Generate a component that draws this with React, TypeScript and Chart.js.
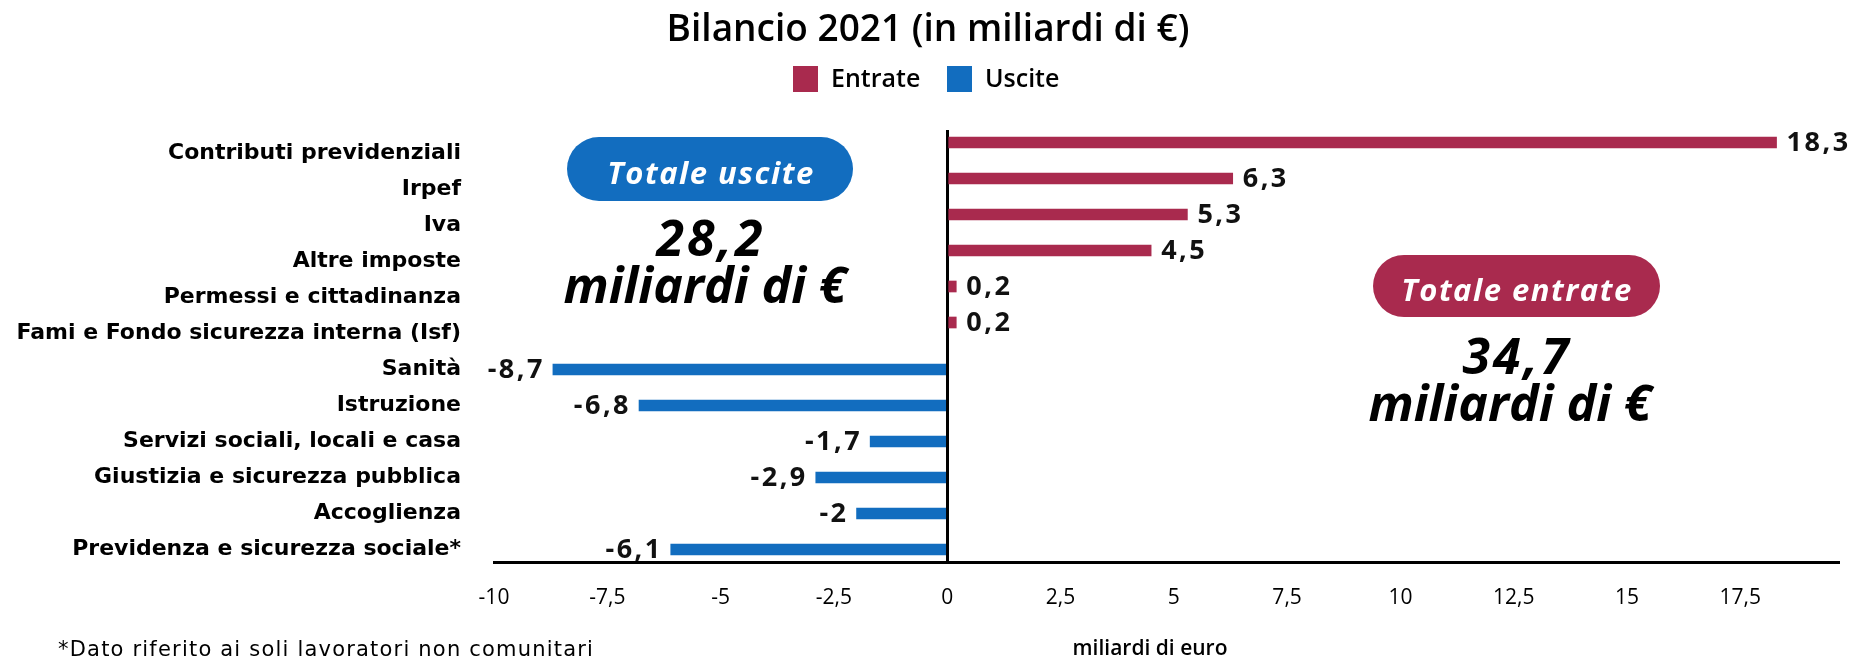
import React, { useEffect, useRef } from 'react';
import { Chart, registerables } from 'chart.js';

Chart.register(...registerables);

// ---------- data ----------
const categories = [
  'Contributi previdenziali',
  'Irpef',
  'Iva',
  'Altre imposte',
  'Permessi e cittadinanza',
  'Fami e Fondo sicurezza interna (Isf)',
  'Sanità',
  'Istruzione',
  'Servizi sociali, locali e casa',
  'Giustizia e sicurezza pubblica',
  'Accoglienza',
  'Previdenza e sicurezza sociale*',
];
const entrateValues = [18.3, 6.3, 5.3, 4.5, 0.2, 0.2, null, null, null, null, null, null];
const usciteValues = [null, null, null, null, null, null, -8.7, -6.8, -1.7, -2.9, -2, -6.1];
const xMin = -10;
const xMax = 19.7;
const xStep = 2.5;
const seriesNames = ['Entrate', 'Uscite'];
const totalLabels = ['Totale entrate', 'Totale uscite'];
const totalValues = ['34,7', '28,2'];
const titleText = 'Bilancio 2021 (in miliardi di €)';
const xAxisTitle = 'miliardi di euro';
const footnote = '*Dato riferito ai soli lavoratori non comunitari';

const RED = '#A92A4E';
const BLUE = '#126DBF';
const FONT = '"Open Sans", "Noto Sans", sans-serif';
const WIDE = '"DejaVu Sans", sans-serif';

const fmt = (v: number) => String(v).replace('.', ',');

function pill(ctx: CanvasRenderingContext2D, x: number, y: number, w: number, h: number, color: string) {
  const r = h / 2;
  ctx.beginPath();
  ctx.moveTo(x + r, y);
  ctx.lineTo(x + w - r, y);
  ctx.arc(x + w - r, y + r, r, -Math.PI / 2, Math.PI / 2);
  ctx.lineTo(x + r, y + h);
  ctx.arc(x + r, y + r, r, Math.PI / 2, (3 * Math.PI) / 2);
  ctx.closePath();
  ctx.fillStyle = color;
  ctx.fill();
}

const labelsPlugin = {
  id: 'barLabels',
  afterDatasetsDraw(chart: any) {
    const ctx = chart.ctx as CanvasRenderingContext2D;
    ctx.save();
    ctx.font = `bold 27px ${FONT}`;
    ctx.letterSpacing = '2.5px';
    ctx.fillStyle = '#111';
    ctx.textBaseline = 'middle';
    chart.data.datasets.forEach((ds: any, di: number) => {
      const meta = chart.getDatasetMeta(di);
      meta.data.forEach((el: any, i: number) => {
        const v = ds.data[i];
        if (v === null || v === undefined) return;
        if (v >= 0) {
          ctx.textAlign = 'left';
          ctx.fillText(fmt(v), el.x + 10, el.y + 1);
        } else {
          ctx.textAlign = 'right';
          ctx.fillText(fmt(v), el.x - 8, el.y + 1);
        }
      });
    });
    ctx.restore();
  },
};

const decorPlugin = {
  id: 'decor',
  afterDraw(chart: any) {
    const ctx = chart.ctx as CanvasRenderingContext2D;
    ctx.save();
    ctx.letterSpacing = '0px';
    // title
    ctx.fillStyle = '#000';
    ctx.textAlign = 'center';
    ctx.textBaseline = 'middle';
    ctx.font = `600 37px ${FONT}`;
    ctx.fillText(titleText, 928, 30);

    // legend
    const legendItems = [
      { box: 793, text: 831, color: RED, label: seriesNames[0] },
      { box: 947, text: 985, color: BLUE, label: seriesNames[1] },
    ];
    ctx.font = `600 25px ${FONT}`;
    ctx.textAlign = 'left';
    legendItems.forEach((it) => {
      ctx.fillStyle = it.color;
      ctx.fillRect(it.box, 66, 25, 26);
      ctx.fillStyle = '#000';
      ctx.fillText(it.label, it.text, 80);
    });

    // totals
    pill(ctx, 567, 137, 286, 64, BLUE);
    pill(ctx, 1373, 255, 287, 62, RED);
    ctx.textAlign = 'center';
    ctx.fillStyle = '#fff';
    ctx.font = `italic bold 31px ${FONT}`;
    ctx.letterSpacing = '1.5px';
    ctx.fillText(totalLabels[1], 711, 175);
    ctx.fillText(totalLabels[0], 1517, 292);
    ctx.fillStyle = '#000';
    ctx.font = `italic bold 50px ${FONT}`;
    ctx.letterSpacing = '3px';
    ctx.fillText(totalValues[1], 711, 242);
    ctx.fillText(totalValues[0], 1517, 360);
    ctx.letterSpacing = '0px';
    ctx.fillText('miliardi di €', 705, 289);
    ctx.fillText('miliardi di €', 1510, 407);

    // axis title & footnote
    ctx.font = `600 21px ${FONT}`;
    ctx.textBaseline = 'alphabetic';
    ctx.textAlign = 'center';
    ctx.fillText(xAxisTitle, 1150, 655);
    ctx.textAlign = 'left';
    ctx.font = `21px ${WIDE}`;
    ctx.letterSpacing = '1.2px';
    ctx.fillText(footnote, 58, 656);
    ctx.restore();
  },
};

export default function App() {
  const ref = useRef<HTMLCanvasElement | null>(null);
  useEffect(() => {
    if (!ref.current) return;
    const chart = new Chart(ref.current, {
      type: 'bar',
      data: {
        labels: categories,
        datasets: [
          { label: seriesNames[0], data: entrateValues as any, backgroundColor: RED, barThickness: 11 },
          { label: seriesNames[1], data: usciteValues as any, backgroundColor: BLUE, barThickness: 11 },
        ],
      },
      options: {
        indexAxis: 'y',
        responsive: false,
        animation: false,
        layout: { padding: { top: 130, right: 10, bottom: 0, left: 0 } },
        plugins: {
          legend: { display: false },
          title: { display: false },
          tooltip: { enabled: false },
        },
        scales: {
          x: {
            type: 'linear',
            min: xMin,
            max: xMax,
            z: 1,
            afterFit: (s: any) => {
              s.height = 97;
            },
            ticks: {
              stepSize: xStep,
              includeBounds: false,
              padding: 23,
              color: '#000',
              font: { family: FONT, size: 21 },
              callback: (v: any) => fmt(Number(v)),
            },
            grid: {
              display: true,
              drawTicks: false,
              color: (c: any) => (c.tick && c.tick.value === 0 ? '#000' : 'rgba(0,0,0,0)'),
              lineWidth: (c: any) => (c.tick && c.tick.value === 0 ? 3 : 0),
            },
            border: { display: true, color: '#000', width: 3 },
          },
          y: {
            type: 'category',
            afterFit: (s: any) => {
              s.width = 494;
            },
            ticks: {
              padding: 25,
              labelOffset: 5,
              color: '#000',
              autoSkip: false,
              font: { family: WIDE, size: 22, weight: 'bold' },
            },
            grid: { display: false },
            border: { display: false },
          },
        },
      },
      plugins: [labelsPlugin, decorPlugin],
    });
    return () => chart.destroy();
  }, []);

  return (
    <div style={{ position: 'fixed', left: 0, top: 0, width: 1850, height: 659, background: '#fff' }}>
      <canvas ref={ref} width={1850} height={659} style={{ display: 'block', width: 1850, height: 659 }} />
    </div>
  );
}
